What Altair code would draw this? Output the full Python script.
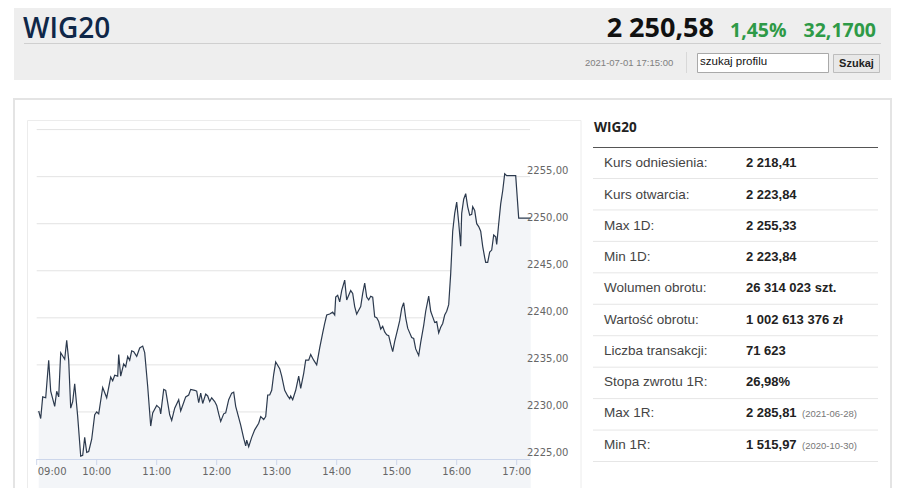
import altair as alt
import pandas as pd

# ---------------- data ----------------
times = ["09:02","09:04","09:06","09:09","09:12","09:14","09:18","09:20","09:22","09:24",
         "09:28","09:30","09:32","09:34","09:36","09:38","09:41","09:44","09:46","09:48",
         "09:50","09:52","09:55","09:58","10:00","10:02","10:06","10:10","10:14","10:16",
         "10:18","10:21","10:22","10:24","10:27","10:29","10:31","10:33","10:35","10:37",
         "10:40","10:43","10:46","10:48","10:51","10:54","10:56","11:00","11:03","11:04",
         "11:07","11:09","11:13","11:15","11:18","11:22","11:24","11:27","11:29","11:32",
         "11:34","11:38","11:40","11:42","11:44","11:46","11:49","11:51","11:53","11:55",
         "11:58","12:00","12:02","12:04","12:07","12:09","12:12","12:15","12:17","12:19",
         "12:22","12:24","12:27","12:29","12:30","12:32","12:35","12:38","12:42","12:44",
         "12:47","12:49","12:51","12:53","12:55","12:57","12:59","13:03","13:05","13:08",
         "13:11","13:13","13:14","13:16","13:19","13:22","13:24","13:27","13:29","13:32",
         "13:34","13:37","13:40","13:43","13:46","13:48","13:50","13:53","13:56","13:58",
         "13:59","14:01","14:03","14:05","14:08","14:10","14:12","14:14","14:16","14:18",
         "14:20","14:22","14:24","14:26","14:28","14:30","14:32","14:34","14:36","14:38",
         "14:40","14:42","14:44","14:46","14:48","14:50","14:52","14:54","14:56","14:58",
         "15:01","15:03","15:05","15:07","15:09","15:11","15:13","15:15","15:17","15:19",
         "15:22","15:24","15:27","15:29","15:32","15:34","15:36","15:38","15:40","15:42",
         "15:44","15:46","15:48","15:50","15:52","15:54","15:56","15:58","16:00","16:02",
         "16:04","16:05","16:07","16:09","16:11","16:13","16:15","16:16","16:18","16:20",
         "16:22","16:24","16:26","16:28","16:29","16:31","16:33","16:35","16:37","16:39",
         "16:40","16:42","16:44","16:46","16:48","16:50","16:59","17:02","17:14"]
prices = [2230.1,2229.3,2231.6,2231.5,2235.5,2232.2,2230.6,2232.2,2231.6,2236.3,
          2235.6,2237.6,2235.5,2230.4,2231.1,2233.0,2229.5,2225.3,2225.4,2227.3,
          2225.7,2225.8,2227.1,2229.7,2230.0,2229.8,2232.6,2231.5,2233.7,2233.3,
          2233.9,2233.8,2236.1,2233.8,2235.1,2234.8,2235.9,2235.5,2236.5,2236.4,
          2235.9,2236.8,2237.0,2236.3,2232.7,2228.5,2229.9,2230.7,2230.4,2229.8,
          2232.4,2232.3,2229.7,2229.1,2230.4,2231.3,2230.1,2231.0,2231.6,2231.8,
          2232.4,2232.3,2232.2,2231.0,2232.0,2230.9,2231.9,2231.7,2231.1,2231.5,
          2231.1,2230.7,2229.8,2229.0,2229.8,2229.9,2231.3,2232.0,2232.1,2230.6,
          2229.4,2228.6,2227.2,2226.4,2227.0,2226.3,2227.3,2228.1,2228.8,2229.5,
          2229.2,2229.5,2231.8,2231.8,2232.3,2234.0,2235.3,2234.6,2233.8,2232.3,
          2231.7,2231.4,2231.7,2231.3,2232.3,2233.8,2232.5,2234.1,2235.5,2235.5,
          2236.1,2235.5,2235.0,2236.8,2238.4,2239.4,2240.3,2240.4,2240.6,2240.3,
          2242.2,2242.4,2241.7,2242.9,2244.0,2241.9,2242.4,2242.9,2242.6,2241.2,
          2240.4,2240.8,2241.2,2242.6,2243.7,2242.2,2241.9,2242.3,2242.2,2240.1,
          2240.0,2239.6,2238.8,2239.1,2238.5,2238.2,2238.1,2237.2,2236.4,2237.5,
          2238.8,2239.7,2241.0,2241.6,2240.0,2238.9,2238.4,2237.9,2237.8,2236.7,
          2236.0,2237.4,2239.2,2240.7,2242.3,2240.7,2240.1,2239.5,2239.6,2238.4,
          2239.0,2239.4,2240.3,2240.7,2241.4,2244.7,2249.2,2251.1,2252.3,2250.1,
          2247.6,2251.1,2252.6,2253.2,2251.8,2250.9,2251.0,2251.8,2251.4,2250.0,
          2249.7,2249.2,2247.6,2246.4,2245.9,2245.9,2247.0,2247.2,2248.8,2248.6,
          2247.8,2250.0,2252.1,2253.5,2255.3,2255.1,2255.1,2250.6,2250.6]

hour_labels = ["09:00","10:00","11:00","12:00","13:00","14:00","15:00","16:00","17:00"]
grid_values = [2230, 2235, 2240, 2245, 2250, 2255, 2260]
price_ticks = [2225, 2230, 2235, 2240, 2245, 2250, 2255]
price_tick_labels = ["2225,00","2230,00","2235,00","2240,00","2245,00","2250,00","2255,00"]

title_text = "WIG20"
last_value = "2 250,58"
change_pct = "1,45%"
change_abs = "32,1700"
timestamp = "2021-07-01 17:15:00"
search_placeholder = "szukaj profilu"
search_button = "Szukaj"

row_labels = ["Kurs odniesienia:", "Kurs otwarcia:", "Max 1D:", "Min 1D:", "Wolumen obrotu:",
              "Wartość obrotu:", "Liczba transakcji:", "Stopa zwrotu 1R:", "Max 1R:", "Min 1R:"]
row_values = ["2 218,41", "2 223,84", "2 255,33", "2 223,84", "26 314 023 szt.",
              "1 002 613 376 zł", "71 623", "26,98%", "2 285,81", "1 515,97"]
row_notes = ["", "", "", "", "", "", "", "", "(2021-06-28)", "(2020-10-30)"]

# ---------------- tables ----------------
series = pd.DataFrame({"t": times, "price": prices})
hours = pd.DataFrame({"t": hour_labels})
grid = pd.DataFrame({"v": grid_values})
yt = pd.DataFrame({"v": price_ticks, "lab": price_tick_labels})
rows = pd.DataFrame({"label": row_labels, "value": row_values, "note": row_notes})
one = pd.DataFrame({"k": [0]})

MIN_EXPR = "toNumber(substring(datum.t,0,2))*60 + toNumber(substring(datum.t,3,5)) - 540"
XS = alt.Scale(domain=[0, 495], range=[28.7, 523.7])
YS = alt.Scale(domain=[2225, 2260], range=[451, 121.6])
ROWS = alt.Scale(type="point", domain=row_labels, range=[155.3, 436.5], padding=0)
ROWSEP = alt.Scale(type="point", domain=row_labels, range=[170.5, 453.5], padding=0)

SANS = "Liberation Sans, Arial, sans-serif"
OPEN = "Open Sans, sans-serif"
AXF = "DejaVu Sans, Verdana, sans-serif"


def box(x, x2, y, y2, fill, stroke=None, sw=1.0):
    kw = dict(fill=fill)
    if stroke is not None:
        kw.update(stroke=stroke, strokeWidth=sw)
    return alt.Chart(one).mark_rect(**kw).encode(
        x=alt.value(x), x2=alt.value(x2), y=alt.value(y), y2=alt.value(y2))


def hline(x, x2, y, color, sw=1.0):
    return alt.Chart(one).mark_rule(color=color, strokeWidth=sw).encode(
        x=alt.value(x), x2=alt.value(x2), y=alt.value(y))


def vline(x, y, y2, color, sw=1.0):
    return alt.Chart(one).mark_rule(color=color, strokeWidth=sw).encode(
        x=alt.value(x), y=alt.value(y), y2=alt.value(y2))


def txt(s, x, y, size, color, weight="normal", font=SANS, align="left", baseline="alphabetic"):
    return alt.Chart(pd.DataFrame({"s": [s]})).mark_text(
        fontSize=size, color=color, fontWeight=weight, font=font,
        align=align, baseline=baseline).encode(
        text="s:N", x=alt.value(x), y=alt.value(y))


layers = []
# header
layers.append(box(6, 883, 0, 72, "#eeeeee"))
layers.append(hline(16, 873, 35.5, "#cfcfcf"))
layers.append(txt(title_text, 15, 30, 28, "#0f2748", weight=600, font=OPEN))
layers.append(txt(last_value, 706, 29, 27, "#111111", weight="bold", font=OPEN, align="right"))
layers.append(txt(change_pct, 722, 29, 19.5, "#2e9a47", weight="bold", font=OPEN))
layers.append(txt(change_abs, 868, 29, 19.5, "#2e9a47", weight="bold", font=OPEN, align="right"))
layers.append(txt(timestamp, 577, 55, 9.5, "#808080", baseline="middle"))
layers.append(vline(678.5, 44, 65, "#d8d8d8"))
layers.append(box(689.5, 820.5, 45.5, 64.5, "#ffffff", "#a9a9a9"))
layers.append(txt(search_placeholder, 692, 54, 11.5, "#111111", baseline="middle"))
layers.append(box(825.5, 871.5, 46.5, 64.5, "#e8e8e8", "#bdbdbd"))
layers.append(txt(search_button, 848.5, 56, 11, "#222222", weight="bold", align="center", baseline="middle"))

# panels
layers.append(box(6, 883, 91, 495, "#ffffff", "#e4e4e4", 2))
layers.append(box(19.5, 573, 112.5, 495, "#ffffff", "#ececec", 1))

# chart grid
layers.append(alt.Chart(grid).mark_rule(color="#e3e3e3", strokeWidth=1).encode(
    y=alt.Y("v:Q", scale=YS, axis=None), x=alt.value(28.7), x2=alt.value(522)))

# area + line
base = alt.Chart(series).transform_calculate(m=MIN_EXPR)
layers.append(base.mark_area(color="#f3f5f8").encode(
    x=alt.X("m:Q", scale=XS, axis=None),
    y=alt.Y("price:Q", scale=YS, axis=None),
    y2=alt.value(451)))
layers.append(base.mark_line(color="#2c3a4e", strokeWidth=1.2).encode(
    x=alt.X("m:Q", scale=XS, axis=None),
    y=alt.Y("price:Q", scale=YS, axis=None)))

# x axis
layers.append(hline(28.7, 522, 451.5, "#ccd6eb"))
hb = alt.Chart(hours).transform_calculate(m=MIN_EXPR)
layers.append(hb.mark_rule(color="#ccd6eb", strokeWidth=1).encode(
    x=alt.X("m:Q", scale=XS, axis=None), y=alt.value(451), y2=alt.value(457)))
layers.append(hb.transform_filter("datum.t == '09:00'").mark_text(
    font=AXF, fontSize=10, color="#666666", align="left", baseline="middle", dx=1).encode(
    x=alt.X("m:Q", scale=XS, axis=None), y=alt.value(464), text="t:N"))
layers.append(hb.transform_filter("datum.t != '09:00'").mark_text(
    font=AXF, fontSize=10, color="#666666", align="center", baseline="middle").encode(
    x=alt.X("m:Q", scale=XS, axis=None), y=alt.value(464), text="t:N"))

# y labels
layers.append(alt.Chart(yt).mark_text(
    font=AXF, fontSize=10, color="#666666", align="left", baseline="middle", dy=-6).encode(
    y=alt.Y("v:Q", scale=YS, axis=None), x=alt.value(519), text="lab:N"))

# right table
layers.append(txt(title_text, 586, 124, 13.5, "#222222", weight="bold", font=OPEN))
layers.append(hline(585, 870, 139.5, "#555555"))
layers.append(alt.Chart(rows).mark_rule(color="#e6e6e6", strokeWidth=1).encode(
    y=alt.Y("label:N", sort=None, scale=ROWSEP, axis=None), x=alt.value(585), x2=alt.value(870)))
layers.append(alt.Chart(rows).mark_text(
    font=SANS, fontSize=13.5, color="#444444", align="left", baseline="middle").encode(
    y=alt.Y("label:N", sort=None, scale=ROWS, axis=None), x=alt.value(596), text="label:N"))
layers.append(alt.Chart(rows).mark_text(
    font=SANS, fontSize=13, fontWeight="bold", color="#222222", align="left", baseline="middle").encode(
    y=alt.Y("label:N", sort=None, scale=ROWS, axis=None), x=alt.value(738), text="value:N"))
layers.append(alt.Chart(rows).mark_text(
    font=SANS, fontSize=9.5, color="#777777", align="left", baseline="middle", dy=1).encode(
    y=alt.Y("label:N", sort=None, scale=ROWS, axis=None), x=alt.value(794), text="note:N"))

chart = alt.layer(*layers).resolve_scale(x="independent", y="independent").properties(
    width=895, height=480, autosize=alt.AutoSizeParams(type="none"), padding=0,
    background="#ffffff"
).configure_view(strokeWidth=0)

chart.save("out.html", embed_options={"renderer": "svg", "actions": False})
